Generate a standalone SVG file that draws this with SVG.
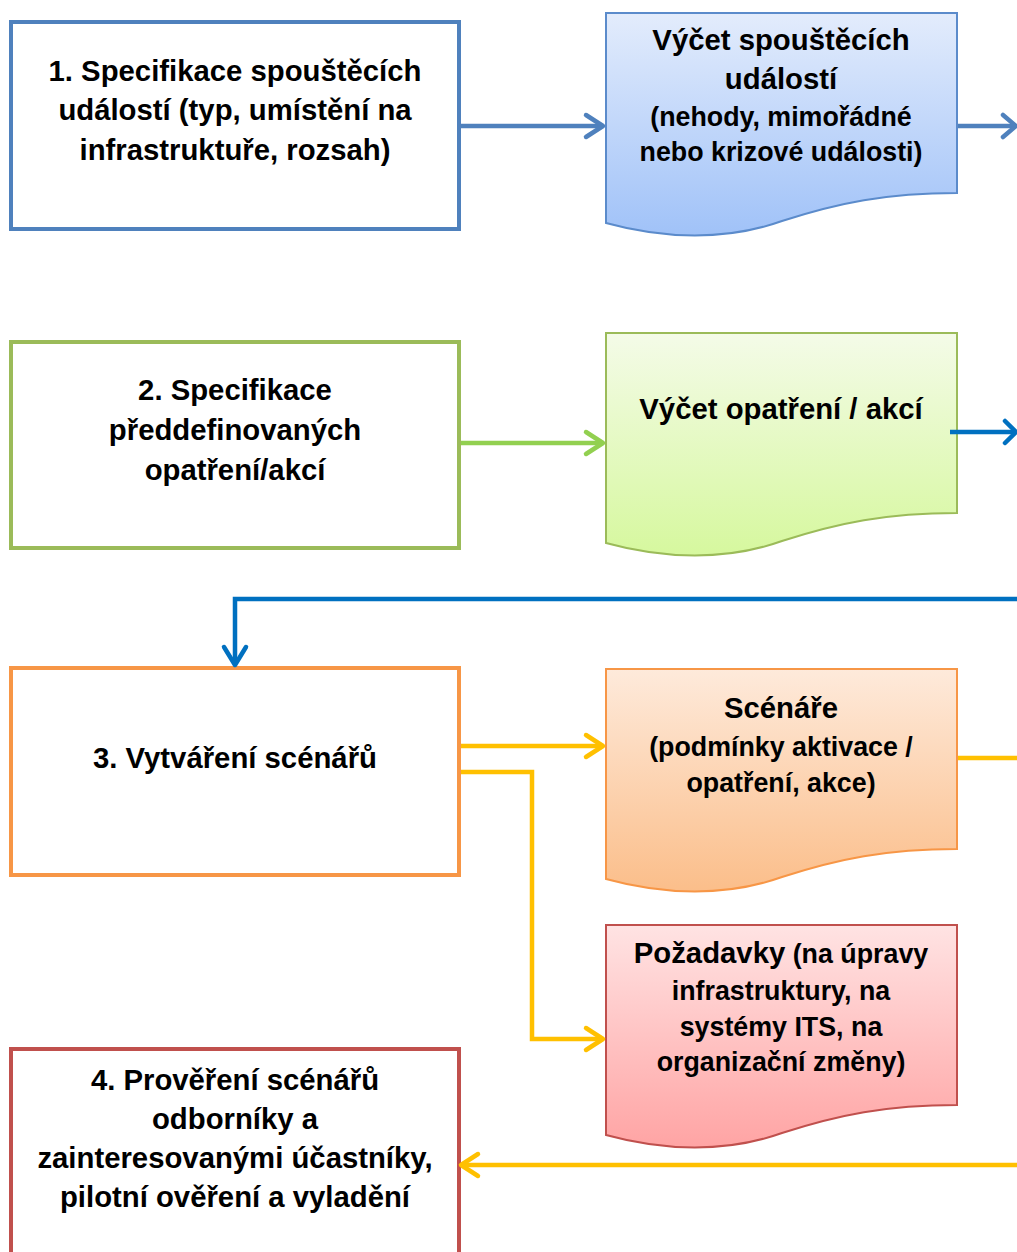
<svg xmlns="http://www.w3.org/2000/svg" width="1017" height="1252" viewBox="0 0 1017 1252">
  <style>
    .box { fill: #ffffff; stroke-width: 4; }
    .doc { stroke-width: 2; }
    .t { font-family: "Liberation Sans", Arial, sans-serif; font-weight: bold; fill: #000000; text-anchor: middle; }
    .big { font-size: 29.3px; }
    .small { font-size: 26.8px; }
    .line { fill: none; stroke-width: 4.5; stroke-linejoin: miter; }
    .head { fill: none; stroke-width: 4.5; stroke-linecap: round; stroke-linejoin: round; }
  </style>
  <defs>
    <linearGradient id="gBlue" x1="0" y1="0" x2="0" y2="1">
      <stop offset="0" stop-color="#E3ECFC"/>
      <stop offset="1" stop-color="#A0C2F8"/>
    </linearGradient>
    <linearGradient id="gGreen" x1="0" y1="0" x2="0" y2="1">
      <stop offset="0" stop-color="#F4FBE8"/>
      <stop offset="1" stop-color="#D6F89E"/>
    </linearGradient>
    <linearGradient id="gOrange" x1="0" y1="0" x2="0" y2="1">
      <stop offset="0" stop-color="#FEEADB"/>
      <stop offset="1" stop-color="#FBBE8A"/>
    </linearGradient>
    <linearGradient id="gRed" x1="0" y1="0" x2="0" y2="1">
      <stop offset="0" stop-color="#FFE3E3"/>
      <stop offset="1" stop-color="#FFA4A4"/>
    </linearGradient>
    <!-- flowchart "document" outline with a wavy bottom edge -->
    <path id="docShape" d="M0,0 H351 V180 C280,180 232,190 176,208 C120,228 58,226 0,210 Z"/>
  </defs>

  <!-- step 1 -->
  <g id="step1">
    <rect class="box" x="11" y="22" width="448" height="207" stroke="#4F81BD"/>
    <text class="t big" x="235" y="81">1. Specifikace spouštěcích</text>
    <text class="t big" x="235" y="120">událostí (typ, umístění na</text>
    <text class="t big" x="235" y="160">infrastruktuře, rozsah)</text>
  </g>

  <!-- list of triggering events -->
  <g id="eventList">
    <use href="#docShape" x="606" y="13" class="doc" fill="url(#gBlue)" stroke="#5B8BCB"/>
    <text class="t big" x="781" y="50">Výčet spouštěcích</text>
    <text class="t big" x="781" y="89">událostí</text>
    <text class="t small" x="781" y="126">(nehody, mimořádné</text>
    <text class="t small" x="781" y="161">nebo krizové události)</text>
  </g>

  <!-- step 2 -->
  <g id="step2">
    <rect class="box" x="11" y="342" width="448" height="206" stroke="#9BBB59"/>
    <text class="t big" x="235" y="400">2. Specifikace</text>
    <text class="t big" x="235" y="440">předdefinovaných</text>
    <text class="t big" x="235" y="480">opatření/akcí</text>
  </g>

  <!-- list of actions -->
  <g id="actionList">
    <use href="#docShape" x="606" y="333" class="doc" fill="url(#gGreen)" stroke="#9BBB59"/>
    <text class="t big" x="781" y="419">Výčet opatření / akcí</text>
  </g>

  <!-- step 3 -->
  <g id="step3">
    <rect class="box" x="11" y="668" width="448" height="207" stroke="#F79646"/>
    <text class="t big" x="235" y="768">3. Vytváření scénářů</text>
  </g>

  <!-- scenarios -->
  <g id="scenarios">
    <use href="#docShape" x="606" y="669" class="doc" fill="url(#gOrange)" stroke="#F79646"/>
    <text class="t big" x="781" y="718">Scénáře</text>
    <text class="t small" x="781" y="756">(podmínky aktivace /</text>
    <text class="t small" x="781" y="792">opatření, akce)</text>
  </g>

  <!-- requirements -->
  <g id="requirements">
    <use href="#docShape" x="606" y="925" class="doc" fill="url(#gRed)" stroke="#C0504D"/>
    <text class="t small" x="781" y="963"><tspan class="big">Požadavky</tspan> (na úpravy</text>
    <text class="t small" x="781" y="1000">infrastruktury, na</text>
    <text class="t small" x="781" y="1036">systémy ITS, na</text>
    <text class="t small" x="781" y="1071">organizační změny)</text>
  </g>

  <!-- step 4 -->
  <g id="step4">
    <rect class="box" x="11" y="1049" width="448" height="215" stroke="#C0504D"/>
    <text class="t big" x="235" y="1090">4. Prověření scénářů</text>
    <text class="t big" x="235" y="1129">odborníky a</text>
    <text class="t big" x="235" y="1168">zainteresovanými účastníky,</text>
    <text class="t big" x="235" y="1207">pilotní ověření a vyladění</text>
  </g>

  <!-- connectors -->
  <g id="connectors">
    <!-- step 1 -> event list -->
    <path class="line" stroke="#4F81BD" d="M461,126 H602"/>
    <polyline class="head" stroke="#4F81BD" points="586,115 603,126 586,137"/>
    <path class="line" stroke="#4F81BD" d="M958,126 H1015"/>
    <polyline class="head" stroke="#4F81BD" points="1003,115 1016,126 1003,137"/>

    <!-- step 2 -> action list -->
    <path class="line" stroke="#92D050" d="M461,443 H602"/>
    <polyline class="head" stroke="#92D050" points="586,432 603,443 586,454"/>
    <path class="line" stroke="#0070C0" d="M950,432 H1015"/>
    <polyline class="head" stroke="#0070C0" points="1005,421 1016,432 1005,443"/>

    <!-- return into step 3 -->
    <path class="line" stroke="#0070C0" d="M1017,599 H235 V664"/>
    <polyline class="head" stroke="#0070C0" points="224,647 235,665 246,647"/>

    <!-- step 3 -> scenarios -->
    <path class="line" stroke="#FFC000" d="M461,746 H602"/>
    <polyline class="head" stroke="#FFC000" points="586,735 603,746 586,757"/>
    <!-- step 3 -> requirements -->
    <path class="line" stroke="#FFC000" d="M461,772 H532 V1039 H602"/>
    <polyline class="head" stroke="#FFC000" points="586,1028 603,1039 586,1050"/>
    <!-- scenarios onwards -->
    <path class="line" stroke="#FFC000" d="M958,758 H1017"/>
    <!-- back into step 4 -->
    <path class="line" stroke="#FFC000" d="M1017,1165 H463"/>
    <polyline class="head" stroke="#FFC000" points="478,1154 461,1165 478,1176"/>
  </g>
</svg>
